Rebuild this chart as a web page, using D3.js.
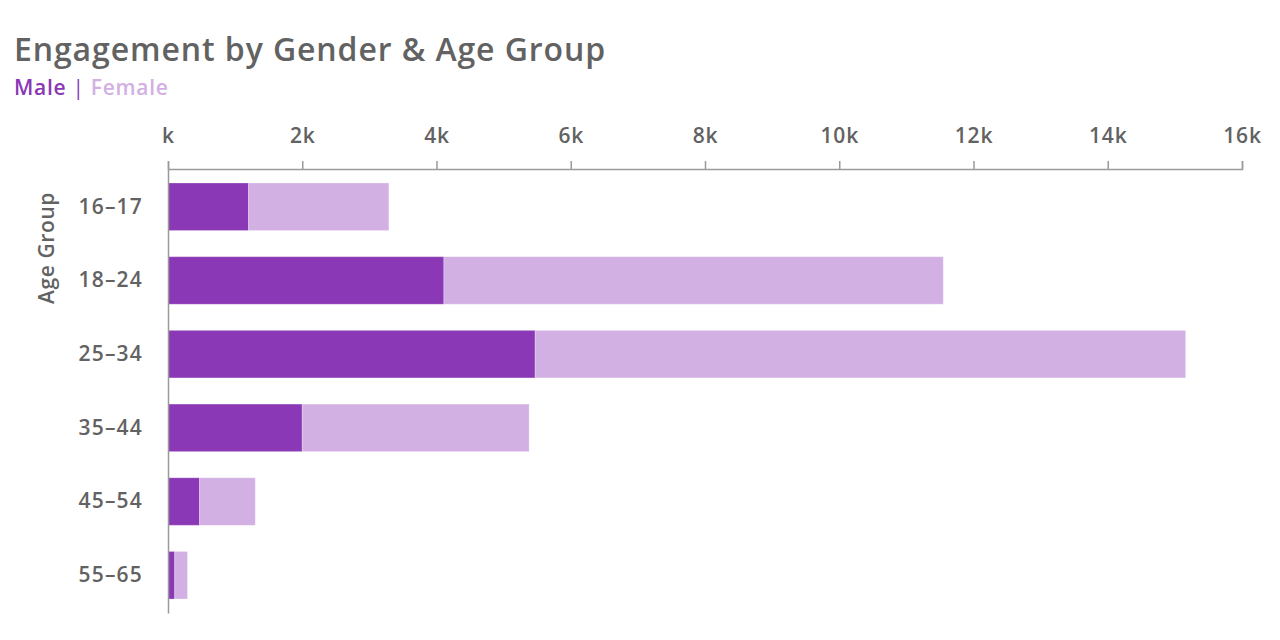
<!DOCTYPE html>
<html>
<head>
<meta charset="utf-8">
<script src="https://cdn.jsdelivr.net/npm/d3@7"></script>
<style>
  body { margin: 0; background: #fff; }
  svg { display: block; font-family: "Open Sans", Lato, sans-serif; }
</style>
</head>
<body>
<script>
// chart data
var ageGroups = ["16–17", "18–24", "25–34", "35–44", "45–54", "55–65"];
var maleValues = [1200, 4110, 5470, 2000, 470, 100];
var femaleValues = [2090, 7440, 9690, 3380, 830, 190];
var xTicks = [0, 2000, 4000, 6000, 8000, 10000, 12000, 14000, 16000];
var seriesNames = ["Male", "Female"];
var seriesColors = ["#8a38b5", "#d2b0e3"];

var width = 1280, height = 640;
var textColor = "#626262";
var fontName = "'Open Sans', Lato, sans-serif";

var svg = d3.select("body").append("svg")
  .attr("width", width)
  .attr("height", height);

var x = d3.scaleLinear().domain([0, 16000]).range([168, 1242]);
var y = d3.scaleBand().domain(ageGroups).range([169, 613])
  .paddingInner(0.355).paddingOuter(0.19);

// title + legend
svg.append("text")
  .attr("x", 14).attr("y", 61)
  .attr("fill", textColor)
  .attr("font-size", 32)
  .attr("font-weight", 600)
  .attr("letter-spacing", 0.9)
  .text("Engagement by Gender & Age Group");

var legend = svg.append("text")
  .attr("x", 14).attr("y", 95)
  .attr("font-size", 21)
  .attr("font-weight", 600)
  .attr("letter-spacing", 0.7);
legend.append("tspan").attr("fill", seriesColors[0]).text(seriesNames[0]);
legend.append("tspan").attr("fill", "#8a38b5").attr("font-weight", 400).text(" | ");
legend.append("tspan").attr("fill", seriesColors[1]).text(seriesNames[1]);

// stacked bars
var rows = ageGroups.map(function (g, i) {
  return { group: g, male: maleValues[i], female: femaleValues[i] };
});
var stack = d3.stack().keys(["male", "female"]);
var layers = stack(rows);

svg.append("g").selectAll("g")
  .data(layers)
  .join("g")
  .attr("fill", function (d, i) { return seriesColors[i]; })
  .selectAll("rect")
  .data(function (d) { return d; })
  .join("rect")
  .attr("x", function (d) { return x(d[0]); })
  .attr("y", function (d) { return y(d.data.group); })
  .attr("width", function (d) { return x(d[1]) - x(d[0]); })
  .attr("height", y.bandwidth())
  .attr("stroke", "#fff")
  .attr("stroke-opacity", 0.25)
  .attr("stroke-width", 1);

// top axis
var xAxis = svg.append("g")
  .attr("transform", "translate(0,169)")
  .call(d3.axisTop(x).tickValues(xTicks)
    .tickFormat(function (d) { return d ? (d / 1000) + "k" : "k"; })
    .tickSize(8).tickSizeOuter(8).tickPadding(18));
xAxis.selectAll("path, line").attr("stroke", "#9a9a9a").attr("stroke-width", 1.5);
xAxis.selectAll("text")
  .attr("fill", textColor)
  .attr("font-size", 21)
  .attr("font-weight", 600)
  .attr("letter-spacing", 0.8)
  .attr("font-family", fontName);

// left axis
var yAxis = svg.append("g")
  .attr("transform", "translate(168,0)")
  .call(d3.axisLeft(y).tickSize(0).tickSizeOuter(0).tickPadding(25));
yAxis.select("path").attr("stroke", "#9a9a9a").attr("stroke-width", 1.5);
yAxis.selectAll("text")
  .attr("fill", textColor)
  .attr("font-size", 21)
  .attr("font-weight", 600)
  .attr("letter-spacing", 1.2)
  .attr("font-family", fontName);

svg.append("text")
  .attr("transform", "translate(54,248) rotate(-90)")
  .attr("text-anchor", "middle")
  .attr("fill", textColor)
  .attr("font-size", 21)
  .attr("font-weight", 600)
  .attr("letter-spacing", 0.6)
  .text("Age Group");
</script>
</body>
</html>
